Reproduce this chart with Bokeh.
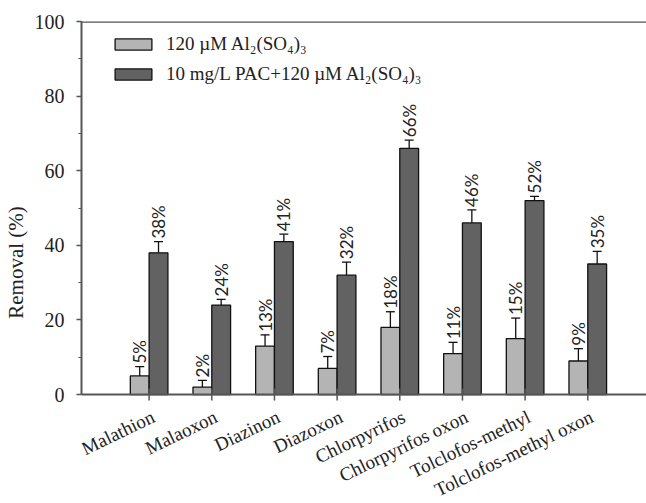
import math
from bokeh.plotting import figure
from bokeh.models import (ColumnDataSource, Whisker, TeeHead, Legend, LegendItem,
                          FixedTicker, Span)
from bokeh.core.properties import value
from bokeh.embed import file_html
from bokeh.resources import INLINE

compounds = ["Malathion", "Malaoxon", "Diazinon", "Diazoxon", "Chlorpyrifos",
             "Chlorpyrifos oxon", "Tolclofos-methyl", "Tolclofos-methyl oxon"]
alum = [5, 2, 13, 7, 18, 11, 15, 9]
alum_err = [2.5, 1.8, 3.0, 3.2, 4.2, 3.0, 5.5, 3.3]
pac = [38, 24, 41, 32, 66, 46, 52, 35]
pac_err = [3.0, 1.5, 2.0, 3.5, 2.2, 3.5, 1.1, 3.4]
series_names = ["120 \u00b5M Al\u2082(SO\u2084)\u2083",
                "10 mg/L PAC+120 \u00b5M Al\u2082(SO\u2084)\u2083"]
y_ticks = [0, 20, 40, 60, 80, 100]

idx = list(range(1, len(compounds) + 1))
bw = 0.3
src_a = ColumnDataSource(dict(x=[i - bw / 2 for i in idx], top=alum,
                              up=[a + e for a, e in zip(alum, alum_err)],
                              lab=[f"{v}%" for v in alum]))
src_p = ColumnDataSource(dict(x=[i + bw / 2 for i in idx], top=pac,
                              up=[a + e for a, e in zip(pac, pac_err)],
                              lab=[f"{v}%" for v in pac]))
src_names = ColumnDataSource(dict(x=idx, y=[0] * len(idx), name=compounds))

# the frame reaches down to the figure's bottom; the category axis sits at y = 0
p = figure(width=646, height=503, x_range=(-0.079, 8.937), y_range=(-29.2, 100),
           x_axis_type=None, output_backend="svg", toolbar_location=None,
           min_border_left=78, min_border_right=0, min_border_top=21,
           min_border_bottom=0)
p.grid.visible = False
p.outline_line_color = None
p.background_fill_color = "white"

axis_col = "#555555"
serif = "Liberation Serif"
txt_col = "#222222"

ra = p.vbar(x="x", top="top", width=bw, source=src_a, fill_color="#b4b4b4",
            line_color="#111111", line_width=1.3)
rp = p.vbar(x="x", top="top", width=bw, source=src_p, fill_color="#626262",
            line_color="#111111", line_width=1.3)

for src in (src_a, src_p):
    w = Whisker(base="x", lower="top", upper="up", source=src,
                line_color="#111111", line_width=1.3,
                upper_head=TeeHead(size=9, line_color="#111111", line_width=1.3),
                lower_head=None)
    p.add_layout(w)
    p.text(x="x", y="up", text="lab", source=src, angle=math.pi / 2,
           text_align="left", text_baseline="middle", y_offset=-3,
           text_font=value("Lato"), text_font_size="17px", text_color=txt_col)

# x axis line, category ticks and rotated category names
p.add_layout(Span(location=0, dimension="width", line_color=axis_col, line_width=2))
p.scatter(x="x", y="y", source=src_names, marker="dash", angle=math.pi / 2,
          size=12, line_color=axis_col, line_width=1.5)
p.text(x="x", y="y", text="name", source=src_names, angle=0.45,
       text_align="right", text_baseline="middle", x_offset=4, y_offset=21,
       text_font=value(serif), text_font_size="19px", text_color=txt_col)

# top frame line
p.add_layout(Span(location=100, dimension="width", line_color=axis_col, line_width=2.5))

p.yaxis.bounds = (0, 100)
p.yaxis.ticker = FixedTicker(ticks=y_ticks, minor_ticks=list(range(0, 101, 10)))
p.yaxis.major_label_text_font = serif
p.yaxis.major_label_text_font_size = "20px"
p.yaxis.major_label_text_color = txt_col
p.yaxis.major_label_standoff = 12
p.yaxis.major_tick_out = 5
p.yaxis.major_tick_in = 0
p.yaxis.minor_tick_out = 3
p.yaxis.minor_tick_in = 0
p.yaxis.axis_label = "Removal (%)"
p.yaxis.axis_label_text_font = serif
p.yaxis.axis_label_text_font_size = "21px"
p.yaxis.axis_label_text_font_style = "normal"
p.yaxis.axis_label_text_color = txt_col
p.yaxis.axis_label_standoff = 4
p.yaxis.axis_line_color = axis_col
p.yaxis.axis_line_width = 2
p.yaxis.major_tick_line_color = axis_col
p.yaxis.major_tick_line_width = 1.5
p.yaxis.minor_tick_line_color = axis_col

legend = Legend(items=[LegendItem(label=series_names[0], renderers=[ra]),
                       LegendItem(label=series_names[1], renderers=[rp])],
                location=(29, 418), padding=10, spacing=8,
                glyph_width=46, glyph_height=14, label_height=22,
                label_text_font=serif, label_text_font_size="19px",
                label_text_color=txt_col, label_standoff=10,
                border_line_color=None, background_fill_alpha=0)
p.add_layout(legend)

open("out.html", "w").write(file_html(p, INLINE))
